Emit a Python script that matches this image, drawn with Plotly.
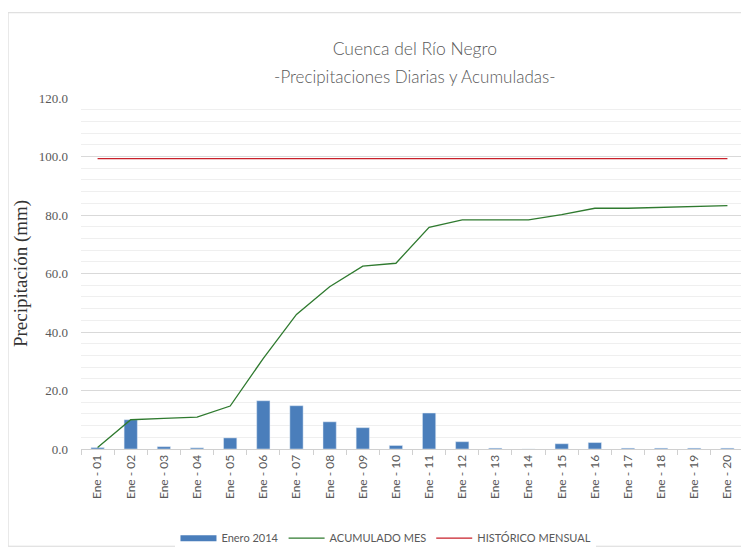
import plotly.graph_objects as go

dias = ["Ene - %02d" % d for d in range(1, 21)]
diaria = [0.5, 10.0, 0.8, 0.4, 3.8, 16.5, 14.8, 9.3, 7.3, 1.2,
          12.3, 2.5, 0.3, 0.0, 1.8, 2.2, 0.3, 0.3, 0.3, 0.3]
acumulado = [0.5, 10.0, 10.5, 10.9, 14.7, 31.0, 46.0, 55.5, 62.5, 63.5,
             75.8, 78.3, 78.3, 78.3, 80.1, 82.3, 82.3, 82.6, 82.9, 83.2]
historico = [99.3] * 20

fig = go.Figure()
fig.add_trace(go.Bar(x=dias, y=diaria, name="Enero 2014", showlegend=False,
                     legendgroup="bar", marker_color="#4a7ebb", width=0.4))
# wide bar swatch for the legend, like the original
fig.add_trace(go.Scatter(x=[None], y=[None], name="Enero 2014", legendgroup="bar",
                         mode="lines", line=dict(color="#4a7ebb", width=6)))
fig.add_trace(go.Scatter(x=dias, y=acumulado, name="ACUMULADO MES",
                         mode="lines", line=dict(color="#2f7a2f", width=1.3)))
fig.add_trace(go.Scatter(x=dias, y=historico, name="HISTÓRICO MENSUAL",
                         mode="lines", line=dict(color="#c8202a", width=1.3)))

# big base size gives the wide line spacing, spans keep the glyphs narrow
titulo = ('<span style="font-size:17.5px">Cuenca del Río Negro</span><br>'
          '<span style="font-size:17px">-Precipitaciones Diarias y Acumuladas-</span>')

# page has an 8px body margin, so the figure is a bit smaller than the window
fig.update_layout(
    width=741, height=550,
    margin=dict(l=73, r=5, t=90, b=106),
    paper_bgcolor="white", plot_bgcolor="white",
    title=dict(text=titulo,
               x=0.549, xanchor="center", y=0.915, yanchor="middle",
               font=dict(family="Lato", size=22, color="#595959", weight=300)),
    font=dict(family="Lato", color="#595959"),
    legend=dict(orientation="h", x=0.46, xanchor="center", y=-0.254, yanchor="middle",
                font=dict(family="Lato", size=11, color="#595959"),
                traceorder="normal", itemwidth=36),
    shapes=[dict(type="rect", xref="paper", yref="paper",
                 x0=-0.11, x1=1.003, y0=-0.277, y1=1.243,
                 line=dict(color="#d9d9d9", width=1))],
)
fig.update_yaxes(range=[0, 120], dtick=20, tickformat=".1f", automargin=False,
                 showgrid=True, gridcolor="#d9d9d9", gridwidth=1,
                 minor=dict(dtick=4, showgrid=True, gridcolor="#efefef"),
                 zeroline=False, ticklabelstandoff=12,
                 title=dict(text="Precipitación (mm)", standoff=6,
                            font=dict(family="Liberation Serif", size=19, color="#333333")),
                 tickfont=dict(family="Liberation Serif", size=13, color="#595959"))
fig.update_xaxes(tickangle=-90, showline=True, linecolor="#d0d0d0", automargin=False,
                 ticks="outside", tickson="boundaries", ticklen=5, tickcolor="#d0d0d0",
                 tickfont=dict(family="Lato", size=12, color="#595959"))

fig.write_html("out.html")
